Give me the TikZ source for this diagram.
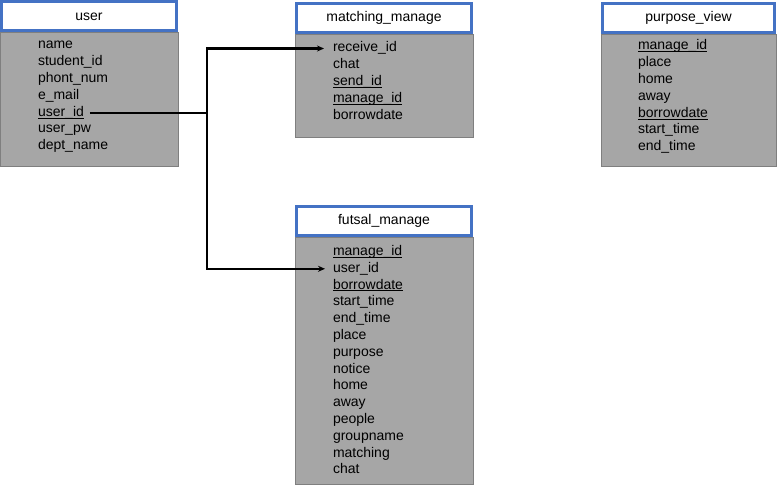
\documentclass[tikz,border=0pt]{standalone}
\usepackage{fontspec}
\setmainfont{Liberation Sans}
\usetikzlibrary{arrows.meta}
\definecolor{hdrblue}{HTML}{4472C4}
\definecolor{bodygray}{HTML}{A6A6A6}
\definecolor{edgegray}{HTML}{7F7F7F}
\newcommand{\keyf}[1]{\setbox0\hbox{#1}\rlap{\rule[-2.2pt]{\wd0}{0.8pt}}\box0}
\tikzset{
  hdr/.style={draw=hdrblue, line width=3pt, fill=white, rectangle, inner sep=0pt, outer sep=0pt},
  tbody/.style={draw=edgegray, line width=0.8pt, fill=bodygray, rectangle, inner sep=0pt, outer sep=0pt},
  fld/.style={anchor=base west, inner sep=0pt, outer sep=0pt, text height=10pt, text depth=3pt},
  conn/.style={line width=2.2pt, -{Stealth[length=7pt,width=6pt]}},
  plain/.style={line width=2.2pt}
}
\begin{document}
\begin{tikzpicture}[x=1pt,y=-1pt,font=\fontsize{14}{16}\selectfont]
\fill[white] (0,0) rectangle (780,486);
\useasboundingbox (0,0) rectangle (780,486);
% user
\node[tbody, minimum width=178pt, minimum height=134pt] (ubody) at (89,99) {};
\node[hdr, minimum width=175pt, minimum height=29pt] (uhdr) at (89,16.5) {user};
\node[fld] (u1) at (38,49) {name};
\node[fld] (u2) at (38,65.8) {student\_id};
\node[fld] (u3) at (38,82.6) {phont\_num};
\node[fld] (u4) at (38,99.4) {e\_mail};
\node[fld] (uuid) at (38,116.2) {\keyf{user\_id}};
\node[fld] (u6) at (38,133) {user\_pw};
\node[fld] (u7) at (38,149.8) {dept\_name};
% matching_manage
\node[tbody, minimum width=178pt, minimum height=103pt] (mbody) at (384,85.5) {};
\node[hdr, minimum width=175pt, minimum height=29pt] (mhdr) at (384,18) {matching\_manage};
\node[fld] (mrid) at (333,52) {receive\_id};
\node[fld] (m2) at (333,68.8) {chat};
\node[fld] (m3) at (333,85.6) {\keyf{send\_id}};
\node[fld] (m4) at (333,102.4) {\keyf{manage\_id}};
\node[fld] (m5) at (333,119.2) {borrowdate};
% purpose_view
\node[tbody, minimum width=175pt, minimum height=132pt] (pbody) at (688.5,100) {};
\node[hdr, minimum width=172pt, minimum height=29pt] (phdr) at (688.5,18) {purpose\_view};
\node[fld] (p1) at (638,50) {\keyf{manage\_id}};
\node[fld] (p2) at (638,66.8) {place};
\node[fld] (p3) at (638,83.6) {home};
\node[fld] (p4) at (638,100.4) {away};
\node[fld] (p5) at (638,117.2) {\keyf{borrowdate}};
\node[fld] (p6) at (638,134) {start\_time};
\node[fld] (p7) at (638,150.8) {end\_time};
% futsal_manage
\node[tbody, minimum width=178pt, minimum height=247pt] (fbody) at (384,360.5) {};
\node[hdr, minimum width=175pt, minimum height=29pt] (fhdr) at (384,221) {futsal\_manage};
\node[fld] (f1) at (333,255.5) {\keyf{manage\_id}};
\node[fld] (fuid) at (333,272.3) {user\_id};
\node[fld] (f3) at (333,289.1) {\keyf{borrowdate}};
\node[fld] (f4) at (333,305.9) {start\_time};
\node[fld] (f5) at (333,322.7) {end\_time};
\node[fld] (f6) at (333,339.5) {place};
\node[fld] (f7) at (333,356.3) {purpose};
\node[fld] (f8) at (333,373.1) {notice};
\node[fld] (f9) at (333,389.9) {home};
\node[fld] (f10) at (333,406.7) {away};
\node[fld] (f11) at (333,423.5) {people};
\node[fld] (f12) at (333,440.3) {groupname};
\node[fld] (f13) at (333,457.1) {matching};
\node[fld] (f14) at (333,473.9) {chat};
% connectors
\coordinate (bus) at (207,0);
\draw[plain] ([xshift=6pt]uuid.east) -- (uuid.east -| bus);
\draw[conn] (uuid.east -| bus) |- ([xshift=-9pt]mrid.west);
\draw[conn] (uuid.east -| bus) |- ([xshift=-8pt]fuid.west);
\end{tikzpicture}
\end{document}
